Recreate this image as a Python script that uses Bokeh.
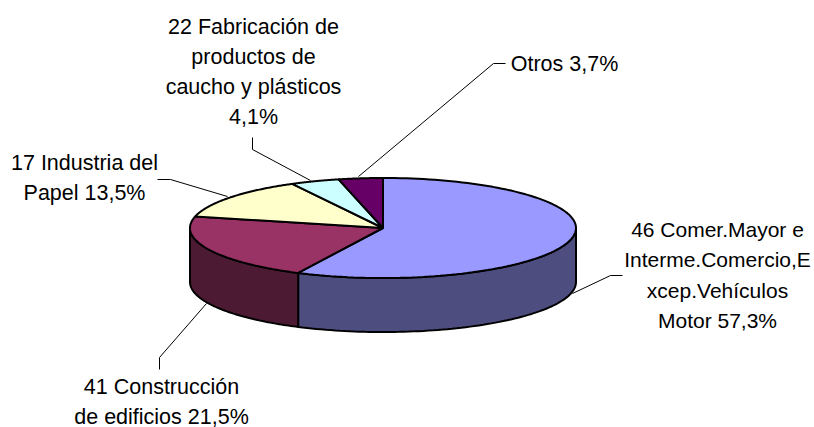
import numpy as np
from bokeh.plotting import figure
from bokeh.embed import file_html
from bokeh.resources import INLINE
from bokeh.core.properties import value

W, H = 814, 427
labels = [
    ["46 Comer.Mayor e", "Interme.Comercio,E", "xcep.Vehículos", "Motor 57,3%"],
    ["41 Construcción", "de edificios 21,5%"],
    ["17 Industria del", "Papel 13,5%"],
    ["22 Fabricación de", "productos de", "caucho y plásticos", "4,1%"],
    ["Otros 3,7%"],
]
shares = [57.3, 21.5, 13.5, 4.1, 3.7]
top_colors = ["#9999FF", "#993366", "#FFFFCC", "#CCFFFF", "#660066"]
side_colors = ["#4D4D80", "#4D1A33", "#808066", "#668080", "#330033"]

cx, cy, a, b, depth = 382.5, 227.5, 193, 50, 54

p = figure(width=W, height=H, x_range=(0, W), y_range=(H, 0), output_backend="svg",
           toolbar_location=None, min_border=0)
p.axis.visible = False
p.grid.visible = False
p.outline_line_color = None


def ell(t, dy=0.0):
    return cx + a * np.sin(t), cy - b * np.cos(t) + dy


edges = np.cumsum([0] + shares) / sum(shares) * 2 * np.pi

# side walls for the arc facing the viewer
for i in range(len(shares)):
    lo, hi = max(edges[i], np.pi / 2), min(edges[i + 1], 3 * np.pi / 2)
    if hi <= lo:
        continue
    t = np.linspace(lo, hi, 80)
    x0, y0 = ell(t)
    x1, y1 = ell(t[::-1], depth)
    p.patch(np.r_[x0, x1], np.r_[y0, y1], fill_color=side_colors[i],
            line_color="black", line_width=2)

# top faces
for i in range(len(shares)):
    t = np.linspace(edges[i], edges[i + 1], 120)
    x, y = ell(t)
    p.patch(np.r_[cx, x], np.r_[cy, y], fill_color=top_colors[i],
            line_color="black", line_width=2)

# leader lines
leaders = [
    ([572, 610, 622], [293, 275, 275]),
    ([206, 159, 159], [303, 357, 369]),
    ([227, 170, 157], [196, 179, 179]),
    ([310, 252, 252], [180, 149, 137]),
    ([358, 493, 505], [176, 63, 63]),
]
for xs, ys in leaders:
    p.line(xs, ys, line_color="black", line_width=1)

# labels: centre x, first-line centre y, font size
anchors = [(717, 229, "21px"), (161, 386.5, "21.5px"), (84, 162, "21.5px"),
           (253, 26, "21.5px"), (564, 63, "21.5px")]
for (ax, ay, fs), lines in zip(anchors, labels):
    ys = [ay + k * 30.3 for k in range(len(lines))]
    p.text([ax] * len(lines), ys, text=lines, text_align="center",
           text_baseline="middle", text_font=value("Liberation Sans"),
           text_font_size=fs, text_color="black")

open("out.html", "w").write(file_html(p, INLINE))
